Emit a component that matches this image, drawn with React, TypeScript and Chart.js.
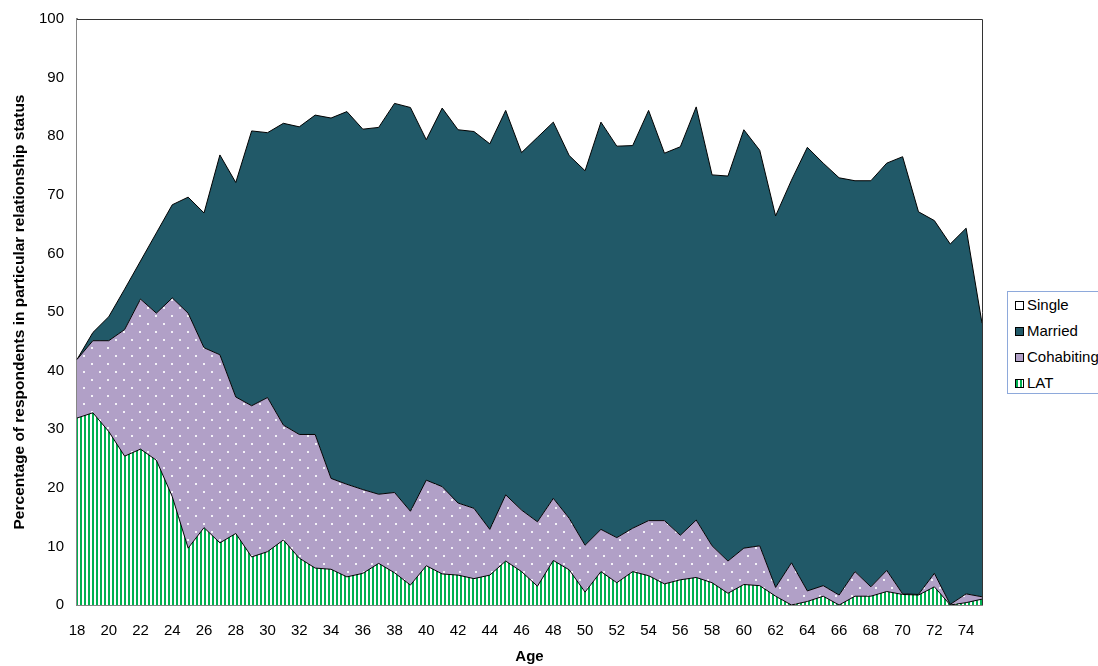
import React, { useEffect, useRef } from "react";
import { Chart, registerables } from "chart.js";

Chart.register(...registerables);

const ages = [
  18, 19, 20, 21, 22, 23, 24, 25, 26, 27, 28, 29, 30, 31, 32, 33, 34, 35, 36, 37,
  38, 39, 40, 41, 42, 43, 44, 45, 46, 47, 48, 49, 50, 51, 52, 53, 54, 55, 56, 57,
  58, 59, 60, 61, 62, 63, 64, 65, 66, 67, 68, 69, 70, 71, 72, 73, 74, 75,
];

const lat = [
  31.9, 32.8, 29.6, 25.4, 26.6, 24.7, 18.5, 9.7, 13.2, 10.6, 12.2, 8.2, 9.1, 11.1, 8.0, 6.3, 6.1, 4.8, 5.4, 7.1,
  5.5, 3.4, 6.7, 5.3, 5.1, 4.5, 5.1, 7.5, 5.7, 3.2, 7.6, 6.0, 2.2, 5.7, 3.8, 5.7, 5.0, 3.6, 4.3, 4.7,
  3.8, 2.0, 3.5, 3.3, 1.5, 0.0, 0.6, 1.5, 0.0, 1.5, 1.5, 2.3, 1.8, 1.7, 3.1, 0.0, 0.4, 1.0,
];

const cohabiting = [
  10.0, 12.3, 15.5, 21.6, 25.6, 25.1, 33.9, 40.1, 30.7, 32.1, 23.3, 25.8, 26.3, 19.6, 21.1, 22.8, 15.5, 15.8, 14.3, 11.8,
  13.7, 12.6, 14.6, 14.9, 12.3, 12.0, 7.8, 11.3, 10.5, 11.0, 10.6, 8.8, 8.0, 7.2, 7.7, 7.4, 9.4, 10.8, 7.6, 9.8,
  6.3, 5.5, 6.2, 6.8, 1.5, 7.2, 1.8, 1.8, 1.7, 4.2, 1.6, 3.6, 0.1, 0.1, 2.3, 0.1, 1.5, 0.4,
];

const married = [
  0.0, 1.4, 4.1, 6.9, 6.5, 13.7, 15.9, 19.8, 23.0, 34.1, 36.6, 46.9, 45.2, 51.5, 52.5, 54.5, 61.5, 63.6, 61.5, 62.6,
  66.4, 68.9, 58.1, 64.6, 63.7, 64.3, 65.8, 65.6, 61.0, 65.6, 64.2, 61.9, 63.9, 69.5, 66.8, 65.3, 70.0, 62.7, 66.3, 70.5,
  63.3, 65.7, 71.4, 67.5, 63.4, 65.3, 75.7, 72.1, 71.2, 66.7, 69.3, 69.5, 74.6, 65.3, 60.2, 61.5, 62.4, 46.7,
];

const single = [
  58.1, 53.5, 50.8, 46.1, 41.3, 36.5, 31.7, 30.4, 33.1, 23.2, 27.9, 19.1, 19.4, 17.8, 18.4, 16.4, 16.9, 15.8, 18.8, 18.5,
  14.4, 15.1, 20.6, 15.2, 18.9, 19.2, 21.3, 15.6, 22.8, 20.2, 17.6, 23.3, 25.9, 17.6, 21.7, 21.6, 15.6, 22.9, 21.8, 15.0,
  26.6, 26.8, 18.9, 22.4, 33.6, 27.5, 21.9, 24.6, 27.1, 27.6, 27.6, 24.6, 23.5, 32.9, 34.4, 38.4, 35.7, 51.9,
];

const seriesNames = ["LAT", "Cohabiting", "Married", "Single"];
const legendOrder = ["Single", "Married", "Cohabiting", "LAT"];

const GREEN = "#00B050";
const LAVENDER = "#B1A0C7";
const TEAL = "#215968";
const FONT = "Arial, 'Liberation Sans', sans-serif";

function makeStripePattern(): CanvasPattern | string {
  const c = document.createElement("canvas");
  c.width = 4;
  c.height = 4;
  const ctx = c.getContext("2d");
  if (!ctx) return GREEN;
  ctx.fillStyle = "#ffffff";
  ctx.fillRect(0, 0, 4, 4);
  ctx.fillStyle = GREEN;
  ctx.fillRect(0, 0, 2, 4);
  return ctx.createPattern(c, "repeat") || GREEN;
}

function makeDotPattern(): CanvasPattern | string {
  const c = document.createElement("canvas");
  c.width = 16;
  c.height = 16;
  const ctx = c.getContext("2d");
  if (!ctx) return LAVENDER;
  ctx.fillStyle = LAVENDER;
  ctx.fillRect(0, 0, 16, 16);
  ctx.fillStyle = "rgba(255,255,255,0.85)";
  ctx.fillRect(3, 3, 2, 2);
  ctx.fillRect(11, 11, 2, 2);
  return ctx.createPattern(c, "repeat") || LAVENDER;
}

const plotFrame = {
  id: "plotFrame",
  afterDatasetsDraw(chart: any) {
    const { ctx, chartArea } = chart;
    ctx.save();
    ctx.strokeStyle = "#333333";
    ctx.lineWidth = 1;
    ctx.beginPath();
    ctx.moveTo(chartArea.left, chartArea.top + 0.5);
    ctx.lineTo(chartArea.right + 0.5, chartArea.top + 0.5);
    ctx.lineTo(chartArea.right + 0.5, chartArea.bottom);
    ctx.stroke();
    ctx.restore();
  },
};

export default function App() {
  const canvasRef = useRef<HTMLCanvasElement | null>(null);

  useEffect(() => {
    if (!canvasRef.current) return;
    const stripes = makeStripePattern();
    const dots = makeDotPattern();
    const fills: any = { LAT: stripes, Cohabiting: dots, Married: TEAL, Single: "#ffffff" };
    const values: any = { LAT: lat, Cohabiting: cohabiting, Married: married, Single: single };

    const chart = new Chart(canvasRef.current, {
      type: "line",
      data: {
        labels: ages.map(String),
        datasets: seriesNames.map((name, i) => ({
          label: name,
          data: values[name],
          backgroundColor: fills[name],
          borderColor: "#000000",
          borderWidth: 1,
          fill: i === 0 ? "origin" : "-1",
          pointRadius: 0,
          tension: 0,
        })),
      },
      options: {
        animation: false,
        responsive: true,
        maintainAspectRatio: false,
        layout: { padding: { left: 0, right: 116, top: 19, bottom: 0 } },
        plugins: {
          legend: { display: false },
          tooltip: { enabled: false },
        },
        scales: {
          x: {
            type: "category",
            offset: false,
            grid: { display: false, drawTicks: false },
            border: { display: true, color: "#868686", width: 2 },
            ticks: {
              autoSkip: false,
              maxRotation: 0,
              padding: 17,
              color: "#000000",
              font: { family: FONT, size: 15 },
              callback: (_v: any, i: number) => (ages[i] % 2 === 0 ? String(ages[i]) : ""),
            },
            title: {
              display: true,
              text: "Age",
              color: "#000000",
              font: { family: FONT, size: 15, weight: "bold" },
              padding: { top: 0, bottom: 0 },
            },
            afterFit: (s: any) => {
              s.height = 61;
            },
          },
          y: {
            stacked: true,
            min: 0,
            max: 100,
            grid: { display: false, drawTicks: true, tickLength: 12 },
            border: { display: true, color: "#868686", width: 2 },
            ticks: {
              stepSize: 10,
              padding: 1,
              color: "#000000",
              font: { family: FONT, size: 15 },
            },
            title: {
              display: true,
              text: "Percentage of respondents in particular relationship status",
              color: "#000000",
              font: { family: FONT, size: 15.5, weight: "bold" },
              padding: { top: 10, bottom: 0 },
            },
            afterFit: (s: any) => {
              s.width = 77;
            },
          },
        },
      } as any,
      plugins: [plotFrame],
    });
    return () => chart.destroy();
  }, []);

  const swatch = (name: string): React.CSSProperties => {
    const base: React.CSSProperties = {
      position: "absolute",
      left: 7,
      top: -4,
      width: 7,
      height: 7,
      border: "1px solid #000",
      boxSizing: "content-box",
    };
    if (name === "Single") return { ...base, background: "#ffffff" };
    if (name === "Married") return { ...base, background: TEAL };
    if (name === "Cohabiting") return { ...base, background: LAVENDER };
    return {
      ...base,
      background: `repeating-linear-gradient(90deg, ${GREEN} 0px, ${GREEN} 2px, #ffffff 2px, #ffffff 4px)`,
    };
  };

  return (
    <div
      style={{
        position: "fixed",
        left: 0,
        top: 0,
        width: 1098,
        height: 666,
        overflow: "hidden",
        background: "#ffffff",
      }}
    >
      <canvas ref={canvasRef} />
      <div
        style={{
          position: "absolute",
          left: 1007,
          top: 291,
          width: 100,
          height: 103,
          border: "1px solid #8EA9DB",
          background: "#ffffff",
          boxSizing: "border-box",
          fontFamily: FONT,
          fontSize: 15,
          color: "#000",
        }}
      >
        {legendOrder.map((name, i) => (
          <div key={name} style={{ position: "absolute", left: 0, top: 13 + i * 26, height: 0 }}>
            <div style={swatch(name)} />
            <div style={{ position: "absolute", left: 19, top: -9, lineHeight: "18px", whiteSpace: "nowrap" }}>
              {name}
            </div>
          </div>
        ))}
      </div>
    </div>
  );
}
